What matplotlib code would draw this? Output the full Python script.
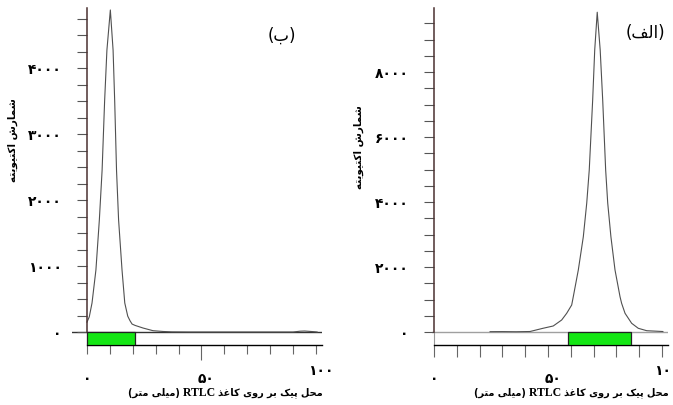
import matplotlib
matplotlib.use("Agg")
import matplotlib.pyplot as plt
from matplotlib.patches import Rectangle
from matplotlib.ticker import FixedLocator, FuncFormatter

# panel (ب): peak near the origin
pos_b = [0, 1.0, 2.2, 3.9, 5.4, 6.6, 7.7, 8.7, 10.2, 11.4, 12.1, 12.9, 13.8,
         15.3, 16.5, 17.8, 18.8, 19.7, 21.0, 24.5, 28.8, 33.2, 37.0, 45, 60,
         75, 90, 93, 95, 97, 99, 100.5]
cnt_b = [150, 230, 440, 940, 1700, 2450, 3500, 4270, 4880, 4270, 3500, 2450,
         1700, 940, 440, 240, 170, 120, 100, 60, 20, 8, 2, 0, 0,
         0, 0, 12, 15, 10, 5, 0]
green_b = (0, 20.8)

# panel (الف): peak near 72 mm
pos_a = [24.6, 30, 36, 42.1, 47.8, 52.3, 56.0, 58.2, 60.4, 61.1, 63.3, 65.5,
         67.0, 68.1, 69.6, 70.5, 71.6, 72.9, 74.0, 75.3, 76.2, 77.6, 79.4,
         81.6, 82.3, 83.8, 86.7, 89.6, 93.3, 100.4]
cnt_a = [10, 12, 8, 15, 114, 185, 369, 575, 831, 1086, 1908, 2932, 3969,
         4985, 7138, 8677, 9840, 8677, 7138, 4985, 3969, 2932, 1908, 1086,
         883, 575, 268, 114, 40, 15]
green_a = (58.6, 86.2)

x_ticks = [0, 10, 20, 30, 40, 50, 60, 70, 80, 90, 100]
x_labels = [0, 50, 100]

# Arabic presentation forms: isolated, final, initial, medial
FORMS = {
    'ا': ('\uFE8D', '\uFE8E', None, None),
    'ب': ('\uFE8F', '\uFE90', '\uFE91', '\uFE92'),
    'پ': ('\uFB56', '\uFB57', '\uFB58', '\uFB59'),
    'ت': ('\uFE95', '\uFE96', '\uFE97', '\uFE98'),
    'ح': ('\uFEA1', '\uFEA2', '\uFEA3', '\uFEA4'),
    'ذ': ('\uFEAB', '\uFEAC', None, None),
    'ر': ('\uFEAD', '\uFEAE', None, None),
    'ش': ('\uFEB5', '\uFEB6', '\uFEB7', '\uFEB8'),
    'غ': ('\uFECD', '\uFECE', '\uFECF', '\uFED0'),
    'ف': ('\uFED1', '\uFED2', '\uFED3', '\uFED4'),
    'ک': ('\uFB8E', '\uFB8F', '\uFB90', '\uFB91'),
    'ل': ('\uFEDD', '\uFEDE', '\uFEDF', '\uFEE0'),
    'م': ('\uFEE1', '\uFEE2', '\uFEE3', '\uFEE4'),
    'ه': ('\uFEE9', '\uFEEA', '\uFEEB', '\uFEEC'),
    'و': ('\uFEED', '\uFEEE', None, None),
    'ی': ('\uFBFC', '\uFBFD', '\uFBFE', '\uFBFF'),
}


def fa(text):
    # shape letters and put them in visual (left to right) order
    out = []
    for i, ch in enumerate(text):
        if ch not in FORMS:
            out.append(ch)
            continue
        prev = text[i - 1] if i > 0 else ''
        nxt = text[i + 1] if i + 1 < len(text) else ''
        jp = prev in FORMS and FORMS[prev][2] is not None
        jn = nxt in FORMS and FORMS[ch][2] is not None
        f = FORMS[ch]
        out.append(f[3] if jp and jn else f[1] if jp else f[2] if jn else f[0])
    mirror = {'(': ')', ')': '('}
    return ''.join(mirror.get(c, c) for c in reversed(out))


def fa_num(v):
    return str(int(v)).translate(str.maketrans('0123456789', '۰۱۲۳۴۵۶۷۸۹'))


plt.rcParams['font.family'] = 'DejaVu Sans'
fig = plt.figure(figsize=(6.73, 4.05), dpi=100)
W, H = 673, 405


def panel(left_px, ppm, xlim, ylim, band, pos, cnt, green, major, minor, tag,
          tag_px, ylab_px, base_col, tick_len, long50):
    ax = fig.add_axes([left_px / W, 60 / H, (xlim[1] - xlim[0]) * ppm / W, 337 / H])
    ax.set_xlim(*xlim)
    ax.set_ylim(-band, ylim)
    ax.plot(pos, cnt, color='#505050', lw=0.8)
    ax.axhline(0, color=base_col, lw=1.0, zorder=1)
    ax.vlines(0, -band, 0, color='#999999', lw=0.8)
    ax.add_patch(Rectangle((green[0], -band), green[1] - green[0], band,
                           facecolor='#14e614', edgecolor='#222222', lw=0.9,
                           zorder=3))
    for s in ['top', 'right']:
        ax.spines[s].set_visible(False)
    ax.spines['left'].set_position(('data', 0))
    ax.spines['left'].set_bounds(0, ylim)
    ax.spines['left'].set_color('#4a3030')
    ax.spines['left'].set_linewidth(1.1)
    ax.spines['bottom'].set_bounds(0, xlim[1])
    ax.spines['bottom'].set_linewidth(1.0)

    ax.yaxis.set_major_locator(FixedLocator(major))
    ax.yaxis.set_minor_locator(FixedLocator(minor))
    ax.yaxis.set_major_formatter(FuncFormatter(lambda v, p: fa_num(v)))
    ax.tick_params(axis='y', which='both', direction='out', length=7.2,
                   width=0.8, color='#555555')
    ax.tick_params(axis='y', which='major', pad=11, labelsize=10)
    for lab in ax.get_yticklabels():
        lab.set_fontweight('bold')

    ax.xaxis.set_major_locator(FixedLocator([50]))
    ax.xaxis.set_minor_locator(FixedLocator([t for t in x_ticks if t != 50]))
    ax.tick_params(axis='x', which='minor', direction='out', length=tick_len,
                   width=0.8, color='#666666')
    ax.tick_params(axis='x', which='major', direction='out', length=long50,
                   width=0.8, color='#666666', labelbottom=False)

    trans = ax.get_xaxis_transform()
    for v in x_labels:
        dy = 26 if v == 100 else 34
        dx = 5 if v != 0 else 0
        ax.annotate(fa_num(v), (v, 0), xycoords=trans,
                    xytext=(dx * 0.72, -dy * 0.72), textcoords='offset points',
                    ha='center', va='center', fontsize=10, fontweight='bold')

    # axis title, pieces chained right to left
    right = ax.annotate(fa('محل پیک بر روی کاغذ'), (1.0, 0), xycoords='axes fraction',
                        xytext=(1, -48 * 0.72), textcoords='offset points',
                        ha='right', va='center', fontsize=7, fontweight='bold')
    mid = ax.annotate(' RTLC ', (0, 0.5), xycoords=right, ha='right', va='center',
                      fontsize=8.5, fontweight='bold', family='Liberation Serif')
    ax.annotate(fa('(میلی متر)'), (0, 0.5), xycoords=mid, ha='right', va='center',
                fontsize=7, fontweight='bold')

    fig.text(ylab_px[0] / W, 1 - ylab_px[1] / H, fa('شمارش اکتیویته'),
             rotation=90, ha='center', va='center', fontsize=7.5,
             fontweight='bold')
    fig.text(tag_px[0] / W, 1 - tag_px[1] / H, fa(tag), ha='center',
             va='center', fontsize=12)
    return ax


panel(72.1, 2.29, (-6.5, 102.5), 4910, 197, pos_b, cnt_b, green_b,
      [0, 1000, 2000, 3000, 4000], [250 * k for k in range(20) if k % 4],
      '(ب)', (282, 36), (13, 140), '#333333', 6.5, 11)
panel(431.7, 2.28, (-1.0, 102.5), 9970, 400, pos_a, cnt_a, green_a,
      [0, 2000, 4000, 6000, 8000], [500 * k for k in range(20) if k % 4],
      '(الف)', (645, 33), (359, 147), '#a0a0a0', 8.5, 8.5)

fig.savefig('out.png', dpi=100)
